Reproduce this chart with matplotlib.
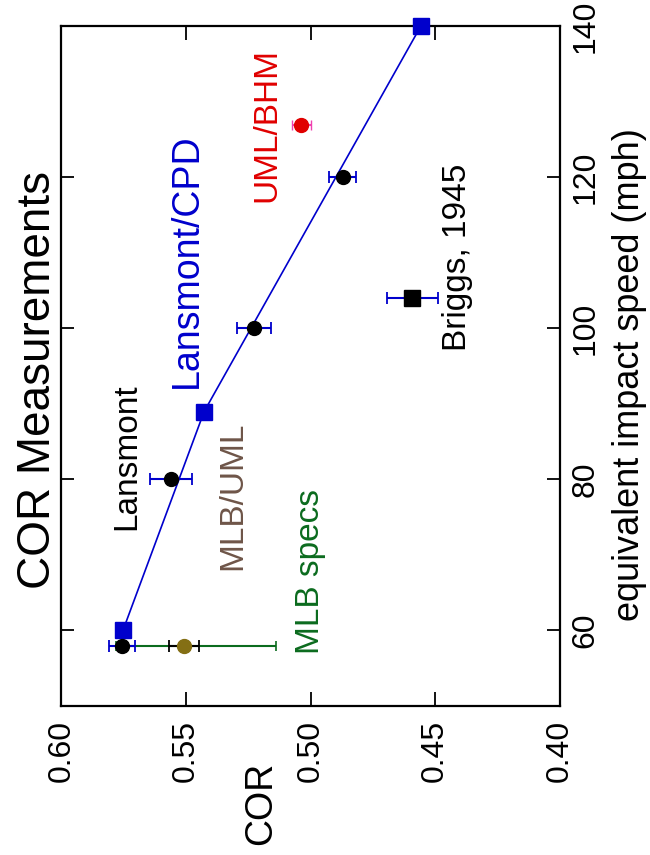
import matplotlib
matplotlib.use("Agg")
import matplotlib.pyplot as plt

plt.rcParams['font.family'] = ['Liberation Sans', 'DejaVu Sans']

# Lansmont/CPD (blue squares joined by a line)
cpd_speed = [60, 89, 140]
cpd_cor = [0.5753, 0.5427, 0.4558]
cpd_err = [0.002, 0.002, 0.002]

# Lansmont (black circles, blue error bars)
lans_speed = [58, 80, 100, 120]
lans_cor = [0.5758, 0.5560, 0.5227, 0.4870]
lans_err = [0.0052, 0.0086, 0.0067, 0.0054]

# UML/BHM
bhm_speed = [127]
bhm_cor = [0.5038]
bhm_err = [0.0038]

# MLB/UML
uml_speed = [58]
uml_cor = [0.5508]
uml_err = [0.006]

# MLB specification range
spec_speed = [58]
spec_cor = [0.546]
spec_err = [0.032]

# Briggs, 1945
briggs_speed = [104]
briggs_cor = [0.4592]
briggs_err = [0.0102]

cor_ticks = [0.60, 0.55, 0.50, 0.45, 0.40]
speed_ticks = [60, 80, 100, 120, 140]

W, H = 650, 855
fig = plt.figure(figsize=(W / 100, H / 100), dpi=100)
ax = fig.add_axes([61.4 / W, 1 - 706 / H, (559.6 - 61.4) / W, (706 - 26.5) / H])

BLUE = '#0000cc'
RED = '#e00000'
PINK = '#f040b0'
GREEN = '#0b6b1e'
OLIVE = '#846f14'
BROWN = '#6e5548'

# MLB spec range
ax.errorbar(spec_cor, spec_speed, xerr=spec_err, fmt='none', ecolor=GREEN,
            elinewidth=1.5, capsize=3.5, capthick=1.2, zorder=2)
# MLB/UML
ax.errorbar(uml_cor, uml_speed, xerr=uml_err, fmt='none', ecolor='black',
            elinewidth=1.5, capsize=4, capthick=1.3, zorder=3)
ax.plot(uml_cor, uml_speed, 'o', color=OLIVE, ms=10, mec=OLIVE, zorder=4)

# Lansmont/CPD
ax.plot(cpd_cor, cpd_speed, '-', color=BLUE, lw=1.2, zorder=3)
ax.errorbar(cpd_cor, cpd_speed, xerr=cpd_err, fmt='none', ecolor=BLUE,
            elinewidth=1.2, capsize=3, zorder=3)
ax.plot(cpd_cor, cpd_speed, 's', color=BLUE, ms=11.5, mec=BLUE, zorder=5,
        clip_on=False)

# Lansmont
ax.errorbar(lans_cor, lans_speed, xerr=lans_err, fmt='none', ecolor=BLUE,
            elinewidth=1.5, capsize=4, capthick=1.3, zorder=4)
ax.plot(lans_cor, lans_speed, 'o', color='black', ms=10, zorder=6)

# UML/BHM
ax.errorbar(bhm_cor, bhm_speed, xerr=bhm_err, fmt='none', ecolor=PINK,
            elinewidth=1.5, capsize=3.5, zorder=4)
ax.plot(bhm_cor, bhm_speed, 'o', color=RED, ms=10, zorder=5)

# Briggs
ax.errorbar(briggs_cor, briggs_speed, xerr=briggs_err, fmt='none', ecolor=BLUE,
            elinewidth=1.5, capsize=4, capthick=1.3, zorder=4)
ax.plot(briggs_cor, briggs_speed, 's', color='black', ms=11.5, zorder=5)

ax.set_xlim(0.60, 0.40)
ax.set_ylim(50, 140)

ax.set_xticks(cor_ticks)
ax.set_xticklabels([f'{v:.2f}' for v in cor_ticks], rotation=90)
ax.set_yticks(speed_ticks)
ax.set_yticklabels([str(v) for v in speed_ticks], rotation=90, va='center')

ax.tick_params(axis='x', direction='in', length=10, width=1.3, top=True,
               bottom=True, labelsize=23, pad=10)
ax.tick_params(axis='y', direction='in', length=9.5, width=1.3, left=True,
               right=True, labelleft=False, labelright=True, labelsize=23, pad=8)
for s in ax.spines.values():
    s.set_linewidth(1.6)


def ftext(x, y, s, size, color='black'):
    fig.text(x / W, 1 - y / H, s, rotation=90, rotation_mode='anchor',
             ha='center', va='baseline', fontsize=size, color=color)


ftext(50, 380, 'COR Measurements', 33)
ftext(135, 457, 'Lansmont', 24)
ftext(197, 261, 'Lansmont/CPD', 27, BLUE)
ftext(275, 125, 'UML/BHM', 24, RED)
ftext(241, 496, 'MLB/UML', 24, BROWN)
ftext(319, 572, 'MLB specs', 24, GREEN)
ftext(466, 257, 'Briggs, 1945', 24)
ftext(271, 803, 'COR', 27)
ftext(639, 375, 'equivalent impact speed (mph)', 26)

fig.savefig('out.png', dpi=100)
